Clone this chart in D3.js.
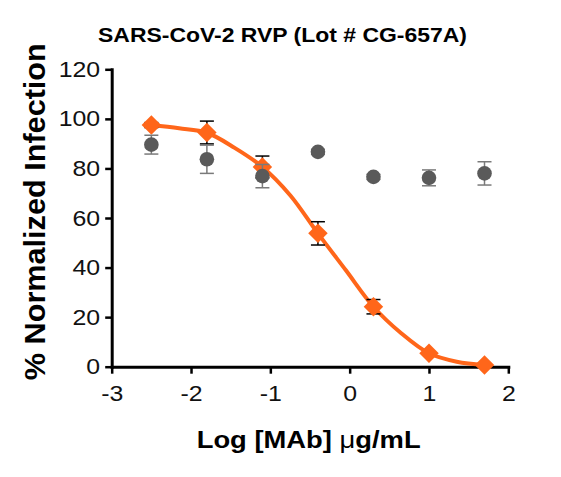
<!DOCTYPE html>
<html>
<head>
<meta charset="utf-8">
<script src="https://cdn.jsdelivr.net/npm/d3@7"></script>
<style>
  body { margin: 0; background: #fff; }
  svg { display: block; font-family: "Liberation Sans", Arial, sans-serif; }
</style>
</head>
<body>
<div id="chart"></div>
<script>
// log concentration of the antibody
const logDose = [-2.5, -1.8, -1.1, -0.4, 0.3, 1.0, 1.7];

// orange series (antibody) mean and sd
const mabMean = [97.5, 94.5, 80.6, 53.8, 24.2, 5.4, 0.7];
const mabSd = [1.0, 4.6, 4.4, 4.7, 2.9, 0.5, 0.5];

// grey series (control) mean and sd
const ctrlMean = [89.6, 83.7, 76.9, 86.7, 76.6, 76.2, 78.0];
const ctrlSd = [3.8, 5.7, 4.7, 1.0, 1.0, 3.2, 4.7];

// fitted curve
const fitX = [-2.5, -2.15, -1.8, -1.45, -1.1, -0.75, -0.4, -0.05, 0.3, 0.65, 1.0, 1.35, 1.7];
const fitY = [97.5, 96.2, 94.4, 88.3, 80.6, 69.2, 53.8, 39.0, 24.2, 13.5, 5.4, 2.0, 0.7];

const xTicks = [-3, -2, -1, 0, 1, 2];
const yTicks = [0, 20, 40, 60, 80, 100, 120];

const W = 561, H = 477;
const orange = '#ff661a', grey = '#5a5a5a';

const svg = d3.select('#chart').append('svg')
  .attr('width', W).attr('height', H);

const x = d3.scaleLinear().domain([-3, 2]).range([111.7, 508.3]);
const y = d3.scaleLinear().domain([0, 120]).range([366.7, 69.3]);

// axes
const yAxis = svg.append('g')
  .attr('transform', `translate(${x(-3)},0)`)
  .call(d3.axisLeft(y).tickValues(yTicks).tickFormat(d => String(d))
    .tickSize(6.5).tickSizeOuter(0).tickPadding(5));
const xAxis = svg.append('g')
  .attr('transform', `translate(0,${y(0)})`)
  .call(d3.axisBottom(x).tickValues(xTicks).tickFormat(d => String(d))
    .tickSize(7).tickSizeOuter(0).tickPadding(11.5));

[xAxis, yAxis].forEach(ax => {
  ax.select('.domain').attr('stroke', '#000').attr('stroke-width', 3).attr('stroke-linecap', 'square');
  ax.selectAll('.tick line').attr('stroke', '#000').attr('stroke-width', 2.5);
  ax.selectAll('.tick text')
    .attr('font-family', '"Liberation Sans", Arial, sans-serif')
    .attr('font-size', 22).attr('fill', '#111')
    .each(function() {
      const w = this.getComputedTextLength();
      d3.select(this).attr('textLength', w * 1.13).attr('lengthAdjust', 'spacingAndGlyphs');
    });
});

// fitted curve
const line = d3.line()
  .x(d => x(d[0])).y(d => y(d[1]))
  .curve(d3.curveCatmullRom);
svg.append('path')
  .datum(fitX.map((v, i) => [v, fitY[i]]))
  .attr('d', line)
  .attr('fill', 'none').attr('stroke', orange).attr('stroke-width', 4);

function errorBars(means, sds, color, width) {
  const g = svg.append('g').attr('stroke', color).attr('stroke-width', width).attr('fill', 'none');
  logDose.forEach((d, i) => {
    const cx = x(d), top = y(means[i] + sds[i]), bot = y(means[i] - sds[i]);
    g.append('line').attr('x1', cx).attr('x2', cx).attr('y1', top).attr('y2', bot);
    g.append('line').attr('x1', cx - 7).attr('x2', cx + 7).attr('y1', top).attr('y2', top);
    g.append('line').attr('x1', cx - 7).attr('x2', cx + 7).attr('y1', bot).attr('y2', bot);
  });
}

// orange diamonds
errorBars(mabMean, mabSd, '#000', 1.5);
svg.append('g').selectAll('path')
  .data(logDose)
  .join('path')
  .attr('d', d3.symbol(d3.symbolSquare, 190))
  .attr('transform', (d, i) => `translate(${x(d)},${y(mabMean[i])}) rotate(45)`)
  .attr('fill', orange);

// grey circles
errorBars(ctrlMean, ctrlSd, '#7a7a7a', 1.5);
svg.append('g').selectAll('circle')
  .data(logDose)
  .join('circle')
  .attr('cx', d => x(d))
  .attr('cy', (d, i) => y(ctrlMean[i]))
  .attr('r', 7.3)
  .attr('fill', grey);

// titles
svg.append('text')
  .attr('x', 282.5).attr('y', 41.7)
  .attr('text-anchor', 'middle')
  .attr('font-size', 19.5).attr('font-weight', 'bold')
  .attr('textLength', 369).attr('lengthAdjust', 'spacingAndGlyphs')
  .text('SARS-CoV-2 RVP (Lot # CG-657A)');

const xl = svg.append('text')
  .attr('x', 308.7).attr('y', 448.3)
  .attr('text-anchor', 'middle')
  .attr('font-size', 23).attr('font-weight', 'bold')
  .attr('textLength', 224).attr('lengthAdjust', 'spacingAndGlyphs');
xl.append('tspan').text('Log [MAb] ');
xl.append('tspan').attr('font-weight', 'normal').text('\u03bc');
xl.append('tspan').text('g/mL');

svg.append('text')
  .attr('transform', 'translate(45,211.7) rotate(-90)')
  .attr('text-anchor', 'middle')
  .attr('font-size', 30).attr('font-weight', 'bold')
  .attr('textLength', 337).attr('lengthAdjust', 'spacingAndGlyphs')
  .text('% Normalized Infection');
</script>
</body>
</html>
